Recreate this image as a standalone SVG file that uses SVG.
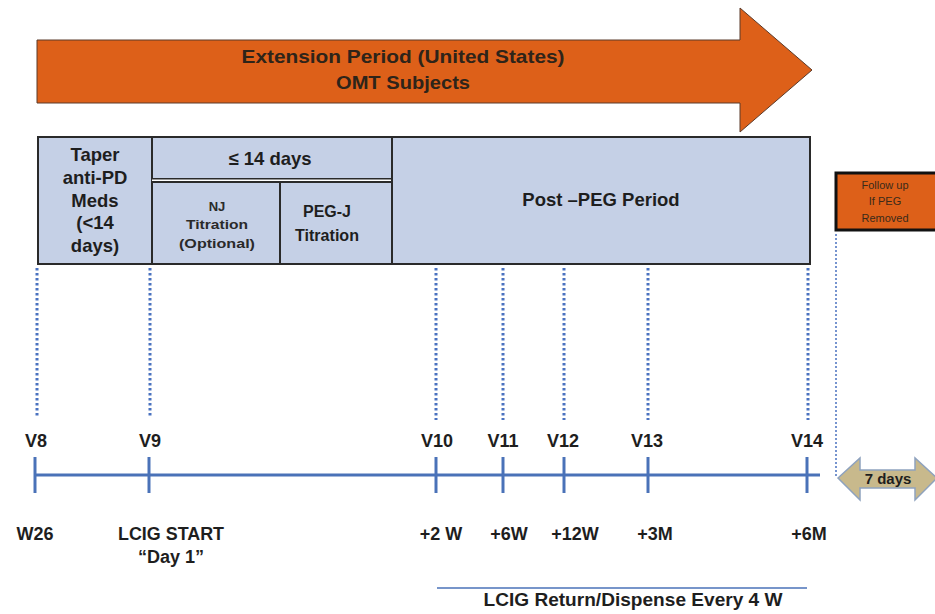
<svg xmlns="http://www.w3.org/2000/svg" width="935" height="614" viewBox="0 0 935 614">
<style>
text{font-family:"Liberation Sans",Arial,sans-serif;font-weight:bold;fill:#1e1e1e;text-anchor:middle}
.box{fill:#C5D0E6;stroke:#2a2a2a;stroke-width:2}
.dot{stroke:#4A72C0;stroke-width:3;stroke-dasharray:2.5 2.5;fill:none}
.tl{stroke:#4A72B8;stroke-width:3;fill:none}
.v{font-size:18px}
.w{font-size:18px}
.b{font-size:18.5px}
.m{font-size:16px}
.s{font-size:13px;fill:#2a2a2a}
.f{font-size:11px;font-weight:normal;fill:#3a2a1a}
.a{font-size:19px;fill:#2e2419}
</style>
<rect width="935" height="614" fill="#fff"/>
<g id="extension-arrow">
<polygon points="37,40 740,40 740,8 812,70 740,132 740,103 37,103" fill="#DD6019" stroke="#5a3a2a" stroke-width="1"/>
<text class="a" x="403" y="63" textLength="323" lengthAdjust="spacingAndGlyphs">Extension Period  (United States)</text>
<text class="a" x="403" y="89" textLength="134" lengthAdjust="spacingAndGlyphs">OMT Subjects</text>
</g>
<g id="taper">
<rect class="box" x="38" y="137" width="114" height="127"/>
<text class="b" x="95" y="161">Taper</text>
<text class="b" x="95" y="184">anti-PD</text>
<text class="b" x="95" y="207">Meds</text>
<text class="b" x="95" y="229">(&lt;14</text>
<text class="b" x="95" y="252">days)</text>
</g>
<g id="le14">
<rect class="box" x="152" y="137" width="240" height="42"/>
<line x1="152" y1="180.5" x2="392" y2="180.5" stroke="#fff" stroke-width="2"/>
<text class="b" x="270" y="165">≤ 14 days</text>
</g>
<g id="nj">
<rect class="box" x="152" y="182" width="128" height="82"/>
<text class="s" x="217" y="211">NJ</text>
<text class="s" x="217" y="229" textLength="62" lengthAdjust="spacingAndGlyphs">Titration</text>
<text class="s" x="217" y="248" textLength="76" lengthAdjust="spacingAndGlyphs">(Optional)</text>
</g>
<g id="pegj">
<rect class="box" x="280" y="182" width="112" height="82"/>
<text class="m" x="327" y="217">PEG-J</text>
<text class="m" x="327" y="241" textLength="64" lengthAdjust="spacingAndGlyphs">Titration</text>
</g>
<g id="post-peg">
<rect class="box" x="392" y="137" width="418" height="127"/>
<text class="b" x="601" y="206">Post –PEG Period</text>
</g>
<g id="follow-up">
<rect x="836" y="173" width="102" height="57" fill="#DD6019" stroke="#111" stroke-width="3"/>
<text class="f" x="885" y="189">Follow up</text>
<text class="f" x="885" y="205">If PEG</text>
<text class="f" x="885" y="222">Removed</text>
</g>
<g id="seven-days">
<polygon points="838,478 860,458 860,470 915,470 915,458 937,478 915,500 915,488 860,488 860,500" fill="#C8B98C" stroke="#8EA2BE" stroke-width="1.5"/>
<text x="888" y="484" font-size="15" fill="#2e2419">7 days</text>
</g>
<g id="connectors">
<line class="dot" x1="37" y1="268" x2="37" y2="416"/>
<line class="dot" x1="150" y1="268" x2="150" y2="416"/>
<line class="dot" x1="436" y1="268" x2="436" y2="420"/>
<line class="dot" x1="503" y1="268" x2="503" y2="420"/>
<line class="dot" x1="564" y1="268" x2="564" y2="420"/>
<line class="dot" x1="648" y1="268" x2="648" y2="420"/>
<line class="dot" x1="808" y1="268" x2="808" y2="420"/>
<line x1="836" y1="234" x2="836" y2="476" stroke="#4A72C0" stroke-width="1.5" stroke-dasharray="2 2"/>
<line class="tl" x1="35" y1="475" x2="820" y2="475"/>
<line class="tl" x1="35" y1="457" x2="35" y2="493"/>
<line class="tl" x1="149" y1="457" x2="149" y2="493"/>
<line class="tl" x1="436" y1="457" x2="436" y2="493"/>
<line class="tl" x1="503" y1="457" x2="503" y2="493"/>
<line class="tl" x1="564" y1="457" x2="564" y2="493"/>
<line class="tl" x1="648" y1="457" x2="648" y2="493"/>
<line class="tl" x1="807" y1="457" x2="807" y2="493"/>
<line x1="437" y1="588" x2="807" y2="588" stroke="#4A72B8" stroke-width="1.5"/>
</g>
<g id="labels">
<text class="v" x="36" y="447">V8</text>
<text class="v" x="150" y="447">V9</text>
<text class="v" x="437" y="447">V10</text>
<text class="v" x="503" y="447">V11</text>
<text class="v" x="563" y="447">V12</text>
<text class="v" x="647" y="447">V13</text>
<text class="v" x="807" y="447">V14</text>
<text class="w" x="35" y="540">W26</text>
<text class="w" x="171" y="540" textLength="106" lengthAdjust="spacingAndGlyphs">LCIG START</text>
<text class="w" x="171" y="563">“Day 1”</text>
<text class="w" x="441" y="540">+2 W</text>
<text class="w" x="509" y="540">+6W</text>
<text class="w" x="575" y="540">+12W</text>
<text class="w" x="655" y="540">+3M</text>
<text class="w" x="809" y="540">+6M</text>
<text class="w" x="633" y="606" textLength="299" lengthAdjust="spacingAndGlyphs">LCIG Return/Dispense Every 4 W</text>
</g>
</svg>
